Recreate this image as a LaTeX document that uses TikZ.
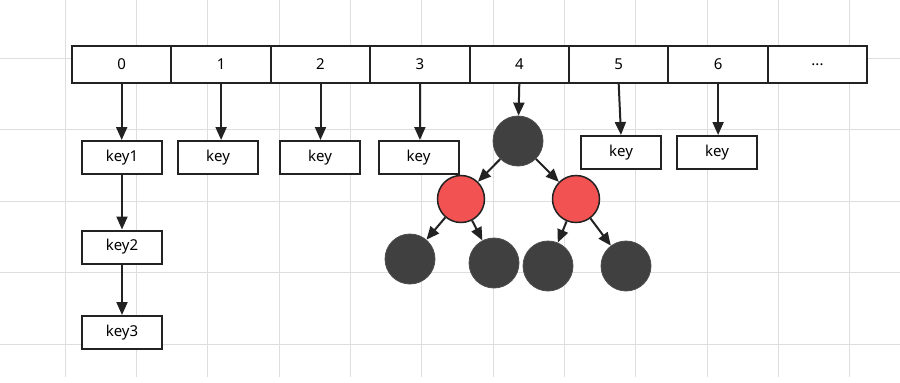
\documentclass[tikz,border=0pt]{standalone}
\usepackage{fontspec}
\setmainfont{Noto Sans}
\usetikzlibrary{arrows.meta}
\definecolor{gridline}{RGB}{222,222,222}
\definecolor{ink}{RGB}{34,34,34}
\definecolor{blacknode}{RGB}{64,64,64}
\definecolor{rednode}{RGB}{242,82,82}
\tikzset{
  cell/.style={draw=ink, line width=2pt, fill=white, minimum width=99.4pt, minimum height=37pt, inner sep=0pt, font=\fontsize{15}{17}\selectfont},
  keybox/.style={draw=ink, line width=2pt, fill=white, minimum width=80pt, minimum height=33pt, inner sep=0pt, font=\fontsize{15}{17}\selectfont},
  blk/.style={circle, draw=ink!80, line width=0.8pt, fill=blacknode, minimum size=50pt, inner sep=0pt},
  red/.style={circle, draw=ink, line width=1.5pt, fill=rednode, minimum size=47pt, inner sep=0pt},
  arr/.style={draw=ink, line width=2pt, -{Triangle[length=13pt, width=11pt]}},
}
\begin{document}
\begin{tikzpicture}[x=1pt, y=-1pt]
  \useasboundingbox[fill=white] (0,0) rectangle (900,383);

  % background grid
  \foreach \k in {0,...,11} {
    \draw[gridline, line width=1pt] ({65+71.35*\k},0) -- ({65+71.35*\k},377);
  }
  \foreach \k in {0,...,4} {
    \draw[gridline, line width=1pt] (0,{58.3+71.5*\k}) -- (900,{58.3+71.5*\k});
  }

  % bucket array
  \foreach \i in {0,...,6} {
    \node[cell] (c\i) at ({72+99.4*(\i+0.5)},64.5) {\i};
  }
  \node[cell] (c7) at ({72+99.4*7.5},64.5) {...};

  % linked list entries
  \node[keybox] (k0)  at (122,157.5) {key1};
  \node[keybox] (k0b) at (122,247)   {key2};
  \node[keybox] (k0c) at (122,332.5) {key3};
  \node[keybox] (k1)  at (218,157.5) {key};
  \node[keybox] (k2)  at (320,157.5) {key};
  \node[keybox] (k3)  at (418.5,157.5) {key};
  \node[keybox] (k5)  at (621,152.5) {key};
  \node[keybox] (k6)  at (717,152.5) {key};

  % red-black tree in bucket 4
  \node[blk] (root) at (518,141) {};
  \node[red] (rl) at (461,199) {};
  \node[red] (rr) at (576,199) {};
  \node[blk] (ll) at (410,259) {};
  \node[blk] (lr) at (494,263) {};
  \node[blk] (rll) at (548,266) {};
  \node[blk] (rrr) at (626,266) {};

  % connectors
  \draw[arr] (c0.south) -- (c0.south |- k0.north);
  \draw[arr] (k0.south) -- (k0b.north);
  \draw[arr] (k0b.south) -- (k0c.north);
  \draw[arr] (c1.south) -- (c1.south |- k1.north);
  \draw[arr] (c2.south) -- (c2.south |- k2.north);
  \draw[arr] (c3.south) -- (c3.south |- k3.north);
  \draw[arr] (c4.south) -- (root);
  \draw[arr] (c5.south) -- (k5.north);
  \draw[arr] (c6.south) -- (c6.south |- k6.north);
  \draw[arr] (root) -- (rl);
  \draw[arr] (root) -- (rr);
  \draw[arr] (rl) -- (ll);
  \draw[arr] (rl) -- (lr);
  \draw[arr] (rr) -- (rll);
  \draw[arr] (rr) -- (rrr);
\end{tikzpicture}
\end{document}
